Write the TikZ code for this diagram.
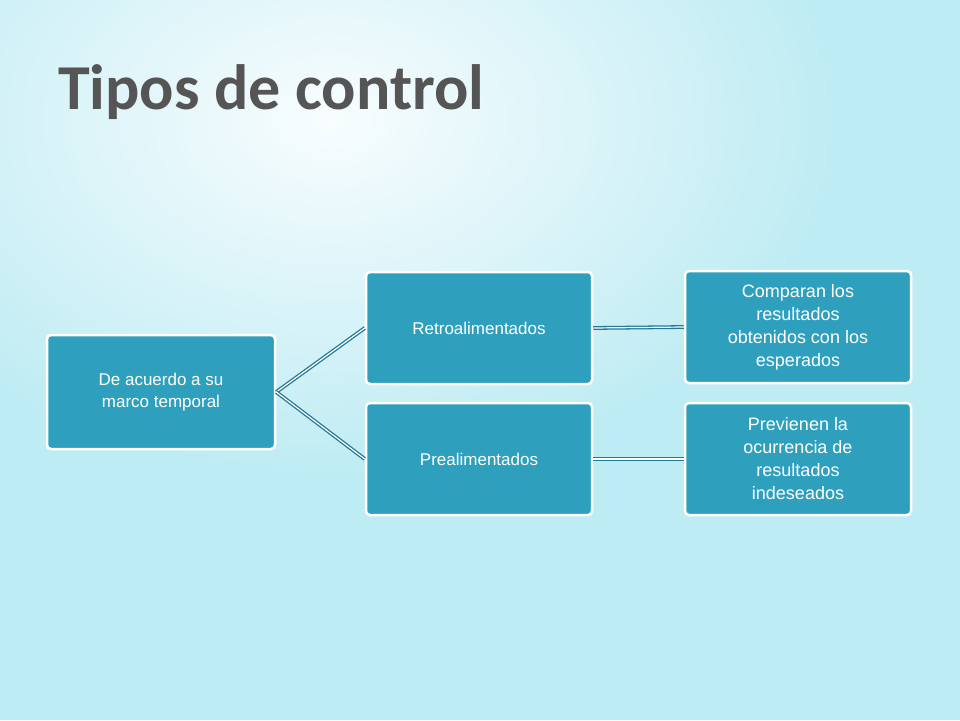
\documentclass[tikz,border=0pt]{standalone}
\usepackage{fontspec}
\setmainfont{Liberation Sans}
\newfontfamily\titlefont{Carlito}
\definecolor{bg}{RGB}{190,236,244}
\definecolor{boxfill}{RGB}{46,160,190}
\definecolor{conn}{RGB}{35,120,150}
\definecolor{ttl}{RGB}{85,85,85}
\tikzset{
  stepbox/.style={draw=white,line width=2.5pt,fill=boxfill,rounded corners=4pt,
    text=white,align=center,font=\fontsize{17}{22}\selectfont,
    minimum width=226pt,minimum height=112pt,inner sep=2pt},
  conline/.style={draw=conn,double=white,double distance=1.2pt,line width=1.3pt}
}
\begin{document}
\begin{tikzpicture}[x=1pt,y=-1pt]
\useasboundingbox (0,0) rectangle (960,720);
\fill[bg] (0,0) rectangle (960,720);
\shade[inner color=white,outer color=bg,opacity=0.9] (330,120) ellipse (520 and 360);
\node[font=\titlefont\bfseries\fontsize{64}{72}\selectfont,text=ttl,anchor=west,
  inner sep=0pt] (title) at (58,92) {Tipos de control};
\node[stepbox,minimum width=228pt,minimum height=114pt] (a) at (161,392) {De acuerdo a su\\ marco temporal};
\node[stepbox] (b) at (479,328) {Retroalimentados};
\node[stepbox] (c) at (479,459) {Prealimentados};
\node[stepbox,font=\fontsize{18}{23}\selectfont] (d) at (798,327) {Comparan los\\ resultados\\ obtenidos con los\\ esperados};
\node[stepbox,font=\fontsize{18}{23}\selectfont] (e) at (798,459) {Previenen la\\ ocurrencia de\\ resultados\\ indeseados};
\draw[conline] (a.east) -- (b.west);
\draw[conline] (a.east) -- (c.west);
\draw[conline] (b.east) -- (d.west);
\draw[conline] (c.east) -- (e.west);
\end{tikzpicture}
\end{document}
